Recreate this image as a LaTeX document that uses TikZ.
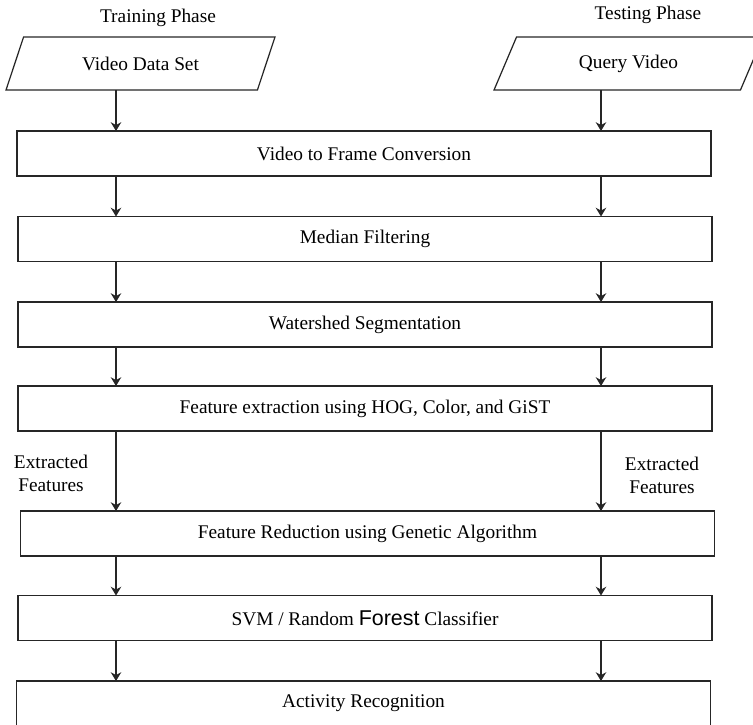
\documentclass[tikz,border=0pt]{standalone}
\usepackage{fontspec}
\setmainfont{Liberation Serif}
\newfontfamily\forestfont{Liberation Sans}
\usetikzlibrary{shapes.geometric,arrows.meta}
\colorlet{lineGrey}{black!85}

\begin{document}
\begin{tikzpicture}[x=0.02cm,y=-0.02cm,
    every node/.style={font=\fontsize{11}{13}\selectfont},
    stage/.style={draw=lineGrey,line width=0.7pt,minimum width=13.88cm,minimum height=0.9cm,inner sep=0pt,outer sep=0pt},
    io/.style={draw=lineGrey,line width=0.7pt,trapezium,trapezium left angle=38,trapezium right angle=142,
        trapezium stretches body,minimum width=5.38cm,minimum height=1.06cm,inner sep=0pt,outer sep=0pt},
    flow/.style={-{Stealth[length=5pt,width=6pt]},line width=0.7pt,lineGrey}]
    \useasboundingbox (0,0) rectangle (753,724);
    \node (train) at (158,18) {Training Phase};
    \node (test) at (648,15) {Testing Phase};
    \node[io] (vds) at (140.5,63.5) {Video Data Set};
    \node[io] (qv) at (628.5,63.5) {Query Video};
    \node[stage] (conv) at (364,153.5) {Video to Frame Conversion};
    \node[stage] (median) at (365,239) {Median Filtering};
    \node[stage] (water) at (365,324.5) {Watershed Segmentation};
    \node[stage] (feat) at (365,408.5) {Feature extraction using HOG, Color, and GiST};
    \node[stage] (reduce) at (367.5,533.5) {Feature Reduction using Genetic Algorithm};
    \node[stage] (svm) at (365,618) {SVM / Random {\forestfont\fontsize{12.2}{14}\selectfont Forest} Classifier};
    \node[stage] (act) at (363.5,703.5) {Activity Recognition};
    \node[align=center] (exl) at (51,473.5) {Extracted\\Features};
    \node[align=center] (exr) at (662,475) {Extracted\\Features};
    % two columns of arrows
    \coordinate (L) at (116,0);
    \coordinate (R) at (601,0);
    \draw[flow] (vds.south -| L) -- (conv.north -| L);
    \draw[flow] (qv.south -| R) -- (conv.north -| R);
    \foreach \a/\b in {conv/median,median/water,water/feat,feat/reduce,reduce/svm,svm/act}{
        \draw[flow] (\a.south -| L) -- (\b.north -| L);
        \draw[flow] (\a.south -| R) -- (\b.north -| R);
    }
\end{tikzpicture}
\end{document}
